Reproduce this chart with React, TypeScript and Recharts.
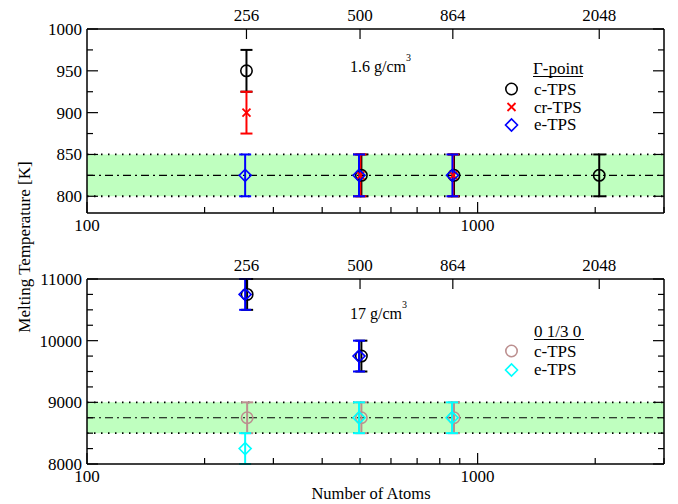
import React from "react";
import {
  ComposedChart,
  Scatter,
  ErrorBar,
  XAxis,
  YAxis,
  ReferenceArea,
  ReferenceLine,
} from "recharts";

const FONT = "'Liberation Serif', 'Times New Roman', serif";

// axes
const topTicks = [256, 500, 864, 2048];
const bottomTicks = [100, 200, 300, 400, 500, 600, 700, 800, 900, 1000, 2000, 3000];
const bottomLabels = [100, 1000];

const upperYTicks = [800, 825, 850, 875, 900, 925, 950, 975, 1000];
const upperYLabels = [800, 850, 900, 950, 1000];
const lowerYTicks = [8000, 8250, 8500, 8750, 9000, 9250, 9500, 9750, 10000, 10250, 10500, 10750, 11000];
const lowerYLabels = [8000, 9000, 10000, 11000];

// 1.6 g/cm3, Gamma-point (x slightly shifted per series, as drawn)
const gcX = [256, 504, 870, 2048];
const gcY = [950, 825, 825, 825];
const gcrX = [256, 501, 866];
const gcrY = [900, 825, 825];
const geX = [254, 497, 862];
const geY = [825, 825, 825];
const upperErr = 25;

// 17 g/cm3
const hgcX = [257, 504];
const hgcY = [10750, 9750];
const hgeX = [254, 497];
const hgeY = [10750, 9750];
const kcX = [257, 504, 870];
const kcY = [8750, 8750, 8750];
const keX = [254, 497, 860];
const keY = [8250, 8750, 8750];
const lowerErr = 250;

const toRows = (xs: number[], ys: number[], err: number) =>
  xs.map((x, i) => ({ x, y: ys[i], e: err }));

const circle = (color: string) => (p: any) =>
  <circle cx={p.cx} cy={p.cy} r={5.7} fill="none" stroke={color} strokeWidth={1.6} />;
const diamond = (color: string) => (p: any) =>
  <path d={`M${p.cx - 6},${p.cy} L${p.cx},${p.cy - 6} L${p.cx + 6},${p.cy} L${p.cx},${p.cy + 6} Z`} fill="none" stroke={color} strokeWidth={1.6} />;
const cross = (color: string) => (p: any) =>
  <path d={`M${p.cx - 4},${p.cy - 4} L${p.cx + 4},${p.cy + 4} M${p.cx - 4},${p.cy + 4} L${p.cx + 4},${p.cy - 4}`} stroke={color} strokeWidth={1.8} />;
const nothing = () => <g />;

const leftTick = (labels: number[]) => (props: any) => {
  const { x, y, payload } = props;
  const major = labels.includes(payload.value);
  return (
    <g>
      <line x1={x} y1={y} x2={x + (major ? 11 : 6)} y2={y} stroke="#000" strokeWidth={1.2} />
      {major && (
        <text x={x - 5} y={y} dy="0.35em" textAnchor="end" fontSize={17} fontFamily={FONT} fill="#000">
          {payload.value}
        </text>
      )}
    </g>
  );
};

const rightTick = (labels: number[]) => (props: any) => {
  const { x, y, payload } = props;
  const major = labels.includes(payload.value);
  return <line x1={x} y1={y} x2={x - (major ? 11 : 6)} y2={y} stroke="#000" strokeWidth={1.2} />;
};

const bottomTick = (props: any) => {
  const { x, y, payload } = props;
  const major = bottomLabels.includes(payload.value);
  return (
    <g>
      <line x1={x} y1={y} x2={x} y2={y - (major ? 11 : 6)} stroke="#000" strokeWidth={1.2} />
      {major && (
        <text x={x} y={y + 18} textAnchor="middle" fontSize={17} fontFamily={FONT} fill="#000">
          {payload.value}
        </text>
      )}
    </g>
  );
};

const topTick = (props: any) => {
  const { x, y, payload } = props;
  return (
    <g>
      <line x1={x} y1={y} x2={x} y2={y + 10} stroke="#000" strokeWidth={1.2} />
      <text x={x} y={y - 8} textAnchor="middle" fontSize={17} fontFamily={FONT} fill="#000">
        {payload.value}
      </text>
    </g>
  );
};

type Series = { rows: any[]; color: string; shape: any };

function Panel({ top, domain, ticks, labels, band, mid, series, marginBottom }: any) {
  return (
    <div style={{ position: "absolute", left: 0, top }}>
      <ComposedChart width={678} height={250} margin={{ top: 28, right: 13, bottom: marginBottom - 1, left: 0 }}>
        <XAxis
          xAxisId="b"
          dataKey="x"
          type="number"
          scale="log"
          domain={[100, 3000]}
          allowDataOverflow
          ticks={bottomTicks}
          interval={0}
          height={1}
          tickSize={0}
          tickMargin={0}
          tickLine={false}
          tick={bottomTick}
          axisLine={{ stroke: "#000", strokeWidth: 1.5 }}
        />
        <XAxis
          xAxisId="t"
          dataKey="x"
          orientation="top"
          type="number"
          scale="log"
          domain={[100, 3000]}
          allowDataOverflow
          ticks={topTicks}
          interval={0}
          height={1}
          tickSize={0}
          tickMargin={0}
          tickLine={false}
          tick={topTick}
          axisLine={{ stroke: "#000", strokeWidth: 1.5 }}
        />
        <YAxis
          yAxisId="l"
          type="number"
          domain={domain}
          allowDataOverflow
          ticks={ticks}
          interval={0}
          width={87}
          tickSize={0}
          tickMargin={0}
          tickLine={false}
          tick={leftTick(labels)}
          axisLine={{ stroke: "#000", strokeWidth: 1.5 }}
        />
        <YAxis
          yAxisId="r"
          orientation="right"
          type="number"
          domain={domain}
          allowDataOverflow
          ticks={ticks}
          interval={0}
          width={1}
          tickSize={0}
          tickMargin={0}
          tickLine={false}
          tick={rightTick(labels)}
          axisLine={{ stroke: "#000", strokeWidth: 1.5 }}
        />
        <ReferenceArea xAxisId="b" yAxisId="l" y1={band[0]} y2={band[1]} fill="#bfffbf" fillOpacity={1} stroke="none" />
        <ReferenceLine xAxisId="b" yAxisId="l" y={band[0]} stroke="#000" strokeWidth={1.8} strokeDasharray="1.5 5.5" />
        <ReferenceLine xAxisId="b" yAxisId="l" y={band[1]} stroke="#000" strokeWidth={1.8} strokeDasharray="1.5 5.5" />
        <ReferenceLine xAxisId="b" yAxisId="l" y={mid} stroke="#000" strokeWidth={1.2} strokeDasharray="8 4 2 4" />
        {/* binds the top and right axes so that they are drawn */}
        <Scatter xAxisId="t" yAxisId="r" data={series[0].rows} dataKey="y" shape={nothing} isAnimationActive={false} />
        {series.map((s: Series, i: number) => (
          <Scatter
            key={i}
            xAxisId="b"
            yAxisId="l"
            data={s.rows}
            dataKey="y"
            shape={s.shape}
            isAnimationActive={false}
          >
            <ErrorBar dataKey="e" direction="y" width={6} stroke={s.color} strokeWidth={2} isAnimationActive={false} />
          </Scatter>
        ))}
      </ComposedChart>
    </div>
  );
}

const txt = { fontFamily: FONT, fill: "#000" } as const;

export default function App() {
  const upperSeries: Series[] = [
    { rows: toRows(gcX, gcY, upperErr), color: "#000000", shape: circle("#000000") },
    { rows: toRows(gcrX, gcrY, upperErr), color: "#ff0000", shape: cross("#ff0000") },
    { rows: toRows(geX, geY, upperErr), color: "#0000ff", shape: diamond("#0000ff") },
  ];
  const lowerSeries: Series[] = [
    { rows: toRows(hgcX, hgcY, lowerErr), color: "#000000", shape: circle("#000000") },
    { rows: toRows(hgeX, hgeY, lowerErr), color: "#0000ff", shape: diamond("#0000ff") },
    { rows: toRows(kcX, kcY, lowerErr), color: "#bc8f8f", shape: circle("#bc8f8f") },
    { rows: toRows(keX, keY, lowerErr), color: "#00ffff", shape: diamond("#00ffff") },
  ];

  return (
    <div style={{ position: "absolute", left: 0, top: 0, width: 678, height: 504, background: "#fff" }}>
      <Panel top={0} domain={[780, 1000]} ticks={upperYTicks} labels={upperYLabels} band={[800, 850]} mid={825} series={upperSeries} marginBottom={37} />
      <Panel top={250} domain={[8000, 11000]} ticks={lowerYTicks} labels={lowerYLabels} band={[8500, 9000]} mid={8750} series={lowerSeries} marginBottom={36} />
      <svg width={678} height={504} style={{ position: "absolute", left: 0, top: 0, pointerEvents: "none" }}>
        {/* density notes */}
        <text x={350} y={72} fontSize={16} {...txt}>1.6 g/cm<tspan fontSize={10} dy={-11}>3</tspan></text>
        <text x={350} y={319} fontSize={16} {...txt}>17 g/cm<tspan fontSize={10} dy={-11}>3</tspan></text>

        {/* upper legend */}
        <text x={533} y={74} fontSize={17} {...txt}>Γ-point</text>
        <line x1={533} x2={583} y1={76.5} y2={76.5} stroke="#000" strokeWidth={1} />
        <circle cx={511.5} cy={89} r={5.7} fill="none" stroke="#000" strokeWidth={1.6} />
        <text x={534} y={94.5} fontSize={17} {...txt}>c-TPS</text>
        <path d="M507.5,103 L515.5,111 M507.5,111 L515.5,103" stroke="#ff0000" strokeWidth={1.8} />
        <text x={534} y={112.5} fontSize={17} {...txt}>cr-TPS</text>
        <path d="M505.5,125 L511.5,119 L517.5,125 L511.5,131 Z" fill="none" stroke="#0000ff" strokeWidth={1.6} />
        <text x={534} y={130} fontSize={17} {...txt}>e-TPS</text>

        {/* lower legend */}
        <text x={534} y={337} fontSize={17} {...txt}>0 1/3 0</text>
        <line x1={534} x2={584} y1={339.5} y2={339.5} stroke="#000" strokeWidth={1} />
        <circle cx={511.5} cy={351} r={5.7} fill="none" stroke="#bc8f8f" strokeWidth={1.6} />
        <text x={534} y={356.5} fontSize={17} {...txt}>c-TPS</text>
        <path d="M505.5,370 L511.5,364 L517.5,370 L511.5,376 Z" fill="none" stroke="#00ffff" strokeWidth={1.6} />
        <text x={534} y={375} fontSize={17} {...txt}>e-TPS</text>

        {/* axis titles */}
        <text x={24} y={247} fontSize={17} textAnchor="middle" dominantBaseline="central" transform="rotate(-90 24 247)" {...txt}>
          Melting Temperature [K]
        </text>
        <text x={371} y={499} fontSize={16.5} textAnchor="middle" {...txt}>Number of Atoms</text>
      </svg>
    </div>
  );
}
